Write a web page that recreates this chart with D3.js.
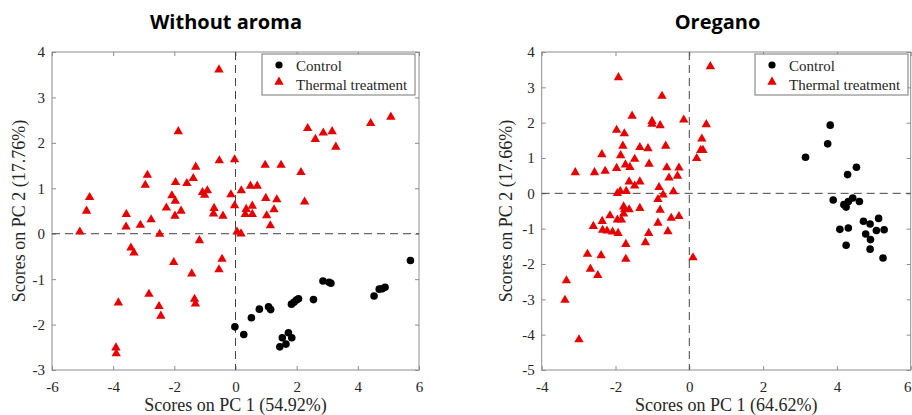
<!DOCTYPE html>
<html><head><meta charset="utf-8">
<script src="https://cdn.jsdelivr.net/npm/d3@7"></script>
<style>body{margin:0;background:#fff;} svg{display:block}</style>
</head><body>
<svg id="c" width="912" height="415"></svg>
<script>
// ---------- DATA ----------
const titles = ["Without aroma", "Oregano"];
const xLabels = ["Scores on PC 1 (54.92%)", "Scores on PC 1 (64.62%)"];
const yLabels = ["Scores on PC 2 (17.76%)", "Scores on PC 2 (17.66%)"];
const legendLabels = ["Control", "Thermal treatment"];

const woXTicks = [-6, -4, -2, 0, 2, 4, 6];
const woYTicks = [-3, -2, -1, 0, 1, 2, 3, 4];
const orXTicks = [-4, -2, 0, 2, 4, 6];
const orYTicks = [-5, -4, -3, -2, -1, 0, 1, 2, 3, 4];

const woControl = [
  [-0.02,-2.05],[0.27,-2.22],[0.52,-1.85],[0.78,-1.66],[1.08,-1.61],[1.15,-1.67],
  [1.45,-2.49],[1.53,-2.29],[1.65,-2.43],[1.73,-2.18],[1.84,-2.29],[1.83,-1.55],
  [1.91,-1.51],[1.99,-1.46],[2.06,-1.43],[2.55,-1.45],[2.86,-1.04],[3.06,-1.07],
  [3.12,-1.09],[4.53,-1.37],[4.70,-1.22],[4.80,-1.21],[4.89,-1.18],[5.72,-0.59]
];
const woThermal = [
  [-0.54,3.61],[-1.87,2.25],[-1.30,1.47],[-0.53,1.61],[-0.03,1.63],[0.97,1.51],
  [1.49,1.51],[2.14,1.35],[2.36,2.32],[2.61,2.08],[2.87,2.22],[3.16,2.25],
  [3.28,1.91],[4.42,2.43],[5.08,2.57],[2.26,0.70],[1.35,0.75],[1.26,0.53],
  [1.14,0.18],[1.02,0.40],[0.99,0.78],[0.71,1.05],[0.49,1.05],[0.55,0.61],
  [0.55,0.43],[0.35,0.54],[0.32,0.43],[0.19,0.95],[-0.03,0.62],[-0.15,0.86],
  [0.05,0.04],[0.18,0.00],[-0.41,0.39],[-0.70,0.56],[-0.72,0.44],[-0.92,0.95],
  [-1.01,0.85],[-1.08,0.91],[-1.38,1.22],[-1.59,1.11],[-1.96,1.13],[-2.08,0.84],
  [-1.97,0.72],[-1.78,0.50],[-1.98,0.39],[-2.26,0.57],[-2.48,-0.01],[-2.76,0.31],
  [-3.11,0.19],[-3.57,0.43],[-3.58,0.15],[-2.95,1.07],[-2.88,1.29],[-4.77,0.80],
  [-4.87,0.50],[-5.09,0.04],[-3.42,-0.31],[-3.32,-0.42],[-1.18,-0.15],[-2.02,-0.63],
  [-0.44,-0.56],[-0.54,-0.79],[-1.43,-0.88],[-2.83,-1.33],[-3.83,-1.52],[-2.50,-1.60],
  [-2.44,-1.81],[-1.34,-1.44],[-1.31,-1.54],[-3.91,-2.51],[-3.90,-2.64]
];

const orControl = [
  [3.15,1.02],[3.75,1.40],[3.82,1.93],[4.29,0.53],[4.53,0.74],[3.90,-0.19],
  [4.19,-0.32],[4.25,-0.39],[4.31,-0.23],[4.43,-0.13],[4.61,-0.23],[4.08,-1.02],
  [4.31,-0.98],[4.25,-1.47],[4.72,-0.79],[4.90,-0.87],[4.78,-1.15],[4.91,-1.31],
  [4.90,-1.58],[5.13,-0.71],[5.07,-1.05],[5.28,-1.03],[5.25,-1.83]
];
const orThermal = [
  [0.57,3.59],[-1.92,3.28],[-0.74,2.75],[-1.55,2.19],[-1.01,2.04],[-1.01,1.96],
  [-0.79,1.92],[-0.15,2.08],[0.46,1.95],[-1.97,1.79],[-1.76,1.69],[-1.80,1.34],
  [-1.34,1.30],[-1.12,1.27],[-0.64,1.34],[0.34,1.54],[0.31,1.22],[0.37,1.22],
  [0.20,0.99],[-2.37,1.10],[-1.86,1.07],[-1.48,0.97],[-1.09,0.83],[-1.73,0.81],
  [-1.61,0.74],[-1.97,0.71],[-0.61,0.73],[-0.28,0.72],[-0.32,0.49],[-0.55,0.44],
  [-3.09,0.59],[-2.57,0.59],[-2.28,0.63],[-1.63,0.33],[-1.34,0.33],[-1.48,0.21],
  [-0.82,0.17],[-0.71,-0.04],[-0.43,0.05],[-1.95,0.00],[-1.87,0.06],[-1.71,0.06],
  [-0.85,-0.17],[-1.78,-0.38],[-1.75,-0.45],[-1.63,-0.46],[-1.34,-0.42],[-1.78,-0.58],
  [-0.79,-0.47],[-2.15,-0.63],[-1.95,-0.75],[-1.84,-0.75],[-2.36,-0.79],[-0.49,-0.70],
  [-0.28,-0.65],[-0.85,-0.84],[-2.60,-0.93],[-2.35,-1.04],[-2.23,-1.06],[-2.08,-1.09],
  [-1.93,-1.13],[-1.10,-1.13],[-0.58,-1.08],[-1.19,-1.39],[-1.72,-1.44],[-1.72,-1.86],
  [-2.76,-1.72],[-2.39,-1.76],[-2.68,-2.14],[-2.48,-2.32],[-3.33,-2.47],[-3.37,-3.02],
  [-2.99,-4.14],[0.10,-1.82]
];

// ---------- LAYOUT ----------
const panels = [
  {title: titles[0], xl: xLabels[0], yl: yLabels[0], xd: [-6, 6], yd: [-3, 4],
   xt: woXTicks, yt: woYTicks, ctrl: woControl, therm: woThermal,
   L: 52, R: 419, T: 52, B: 370, titleX: 226, ylX: 25, legL: 262},
  {title: titles[1], xl: xLabels[1], yl: yLabels[1], xd: [-4, 6], yd: [-5, 4],
   xt: orXTicks, yt: orYTicks, ctrl: orControl, therm: orThermal,
   L: 541.7, R: 910.7, T: 52, B: 370, titleX: 717.5, ylX: 511.5, legL: 755}
];

const W = 912;
const svg = d3.select("#c");
const serif = "'Liberation Serif','Times New Roman',serif";
const red = "#e60000";
const frameCol = "#8c8c8c";
const txtCol = "#262626";
const tri = d3.symbol(d3.symbolTriangle, 38);

panels.forEach(p => {
  const x = d3.scaleLinear().domain(p.xd).range([p.L, p.R]);
  const y = d3.scaleLinear().domain(p.yd).range([p.B, p.T]);

  // title
  svg.append("text").attr("x", p.titleX).attr("y", 29)
    .attr("text-anchor", "middle")
    .style("font-family", "'Open Sans',sans-serif").style("font-weight", "bold")
    .style("font-size", "20px").attr("fill", "#000").text(p.title);

  // axes with inward ticks
  const gB = svg.append("g").attr("transform", `translate(0,${p.B})`)
    .call(d3.axisBottom(x).tickValues(p.xt).tickSizeInner(-4).tickSizeOuter(0).tickFormat(d => String(d)));
  const gT = svg.append("g").attr("transform", `translate(0,${p.T})`)
    .call(d3.axisTop(x).tickValues(p.xt).tickSizeInner(-4).tickSizeOuter(0).tickFormat(""));
  const gLft = svg.append("g").attr("transform", `translate(${p.L},0)`)
    .call(d3.axisLeft(y).tickValues(p.yt).tickSizeInner(-4).tickSizeOuter(0).tickFormat(d => String(d)));
  const gRt = svg.append("g").attr("transform", `translate(${p.R},0)`)
    .call(d3.axisRight(y).tickValues(p.yt).tickSizeInner(-4).tickSizeOuter(0).tickFormat(""));
  [gB, gT, gLft, gRt].forEach(g => {
    g.select(".domain").remove();
    g.selectAll(".tick line").attr("stroke", frameCol);
  });
  gB.selectAll(".tick text").attr("y", 22).attr("dy", null)
    .style("font-family", serif).style("font-size", "15px").attr("fill", txtCol);
  // keep a label that would run past the right edge inside the window
  gB.selectAll(".tick text").each(function(d) {
    const half = this.getComputedTextLength() / 2;
    if (x(d) + half > W - 1) {
      d3.select(this).attr("text-anchor", "end").attr("x", (W - 1) - x(d));
    }
  });
  gLft.selectAll(".tick text").attr("x", -7).attr("dy", "0.33em")
    .style("font-family", serif).style("font-size", "15px").attr("fill", txtCol);

  // frame
  svg.append("rect").attr("x", p.L).attr("y", p.T)
    .attr("width", p.R - p.L).attr("height", p.B - p.T)
    .attr("fill", "none").attr("stroke", frameCol).attr("stroke-width", 1);

  // dashed zero lines
  svg.append("line").attr("x1", x(0)).attr("x2", x(0)).attr("y1", p.T).attr("y2", p.B)
    .attr("stroke", "#444").attr("stroke-dasharray", "8,5");
  svg.append("line").attr("x1", p.L).attr("x2", p.R).attr("y1", y(0)).attr("y2", y(0))
    .attr("stroke", "#444").attr("stroke-dasharray", "8,5");

  // points
  svg.append("g").selectAll("path").data(p.therm).join("path")
    .attr("d", tri).attr("transform", d => `translate(${x(d[0])},${y(d[1])})`)
    .attr("fill", red);
  svg.append("g").selectAll("circle").data(p.ctrl).join("circle")
    .attr("cx", d => x(d[0])).attr("cy", d => y(d[1])).attr("r", 3.8)
    .attr("fill", "#000");

  // axis labels
  svg.append("text").attr("x", (p.L + p.R) / 2).attr("y", 410.5)
    .attr("text-anchor", "middle").style("font-family", serif).style("font-size", "18px")
    .attr("fill", txtCol).text(p.xl);
  svg.append("text").attr("transform", `translate(${p.ylX},${(p.T + p.B) / 2}) rotate(-90)`)
    .attr("text-anchor", "middle").style("font-family", serif).style("font-size", "18px")
    .attr("fill", txtCol).text(p.yl);

  // legend
  const lg = svg.append("g").attr("transform", `translate(${p.legL},54)`);
  lg.append("rect").attr("width", 153).attr("height", 41)
    .attr("fill", "#fff").attr("stroke", "#777");
  lg.append("circle").attr("cx", 17).attr("cy", 11).attr("r", 3.6).attr("fill", "#000");
  lg.append("path").attr("d", tri).attr("transform", "translate(17,28)").attr("fill", red);
  lg.append("text").attr("x", 34).attr("y", 17).style("font-family", serif)
    .style("font-size", "15px").attr("fill", txtCol).text(legendLabels[0]);
  lg.append("text").attr("x", 34).attr("y", 35.5).style("font-family", serif)
    .style("font-size", "15px").attr("fill", txtCol).text(legendLabels[1]);
});
</script>
</body></html>
